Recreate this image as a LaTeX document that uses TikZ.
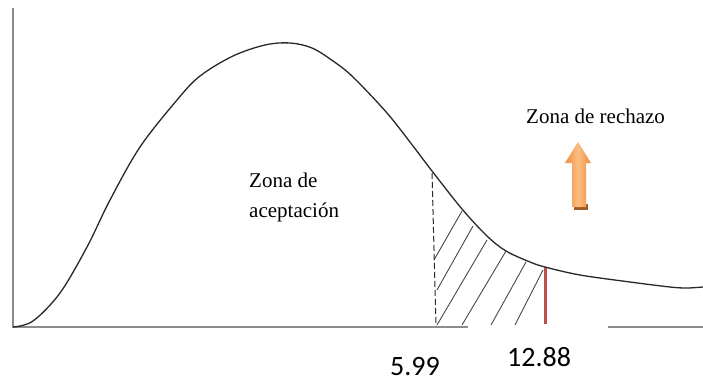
\documentclass[tikz,border=0pt]{standalone}
\usepackage{fontspec}
\setmainfont{Liberation Serif}
\newfontfamily\numfont{Carlito}
\definecolor{axisgray}{RGB}{140,140,140}
\definecolor{curvegray}{RGB}{40,40,40}
\definecolor{critred}{RGB}{192,80,77}
\definecolor{arroworange}{RGB}{240,140,60}
\definecolor{arrowlight}{RGB}{250,190,130}
\tikzset{
  axisline/.style={draw=axisgray,line width=1.6pt},
  curveline/.style={draw=curvegray,line width=1.3pt},
  hatchline/.style={draw=curvegray!85,line width=0.9pt},
  lbl/.style={inner sep=0pt,anchor=base west,font=\fontsize{21}{25}\selectfont},
  numlbl/.style={inner sep=0pt,anchor=base west,font=\numfont\fontsize{28}{32}\selectfont}
}
\begin{document}
\begin{tikzpicture}[x=1pt,y=-1pt]
\useasboundingbox[fill=white] (0,0) rectangle (703,383);
% axes
\coordinate (ytop) at (13,8);
\coordinate (orig) at (13,327);
\coordinate (xbreakA) at (468,327);
\coordinate (xbreakB) at (608,327);
\coordinate (xend) at (703,327);
\draw[axisline] (ytop) -- (orig) -- (xbreakA);
\draw[axisline] (xbreakB) -- (xend);
% hatching
\draw[hatchline] (434,260) -- (462,211);
\draw[hatchline] (437,290) -- (473,226);
\draw[hatchline] (437,325) -- (487,240);
\draw[hatchline] (462,325) -- (506,251);
\draw[hatchline] (491,325) -- (526,262);
\draw[hatchline] (515,325) -- (543,270);
% dashed boundary
\coordinate (dtop) at (432,173);
\coordinate (dbot) at (436,326);
\draw[draw=curvegray,line width=1pt,dash pattern=on 6pt off 3pt] (dtop) -- (dbot);
% critical value line
\coordinate (rtop) at (545,267);
\coordinate (rbot) at (545,324);
\draw[draw=critred,line width=3pt] (rtop) -- (rbot);
% curve
\draw[curveline] plot[smooth,tension=0.55] coordinates {
 (13,327) (33,321) (60,293) (87,247) (110,200) (140,147) (177,100) (200,76)
 (233,56) (265,45) (290,43) (312,48) (333,61) (353,77) (387,113) (413,146)
 (432,171) (462,209) (487,236) (506,251) (530,262) (545,267) (580,275)
 (630,282) (670,287) (687,288) (703,287)};
% arrow
\fill[arroworange!65!black] (574,204) -- (588,204) -- (588,210) -- (574,210) -- cycle;
\shade[left color=arroworange,right color=arroworange,middle color=arrowlight,shading=axis]
  (578,142) -- (591,163) -- (586,163) -- (586,207) -- (572,207) -- (572,163) -- (565,163) -- cycle;
% labels
\node[lbl] (acep1) at (249,187) {Zona de};
\node[lbl] (acep2) at (249,217) {aceptación};
\node[lbl] (rech) at (526,123) {Zona de rechazo};
\node[numlbl] (v1) at (390,375) {5.99};
\node[numlbl] (v2) at (507,366) {12.88};
\end{tikzpicture}
\end{document}
